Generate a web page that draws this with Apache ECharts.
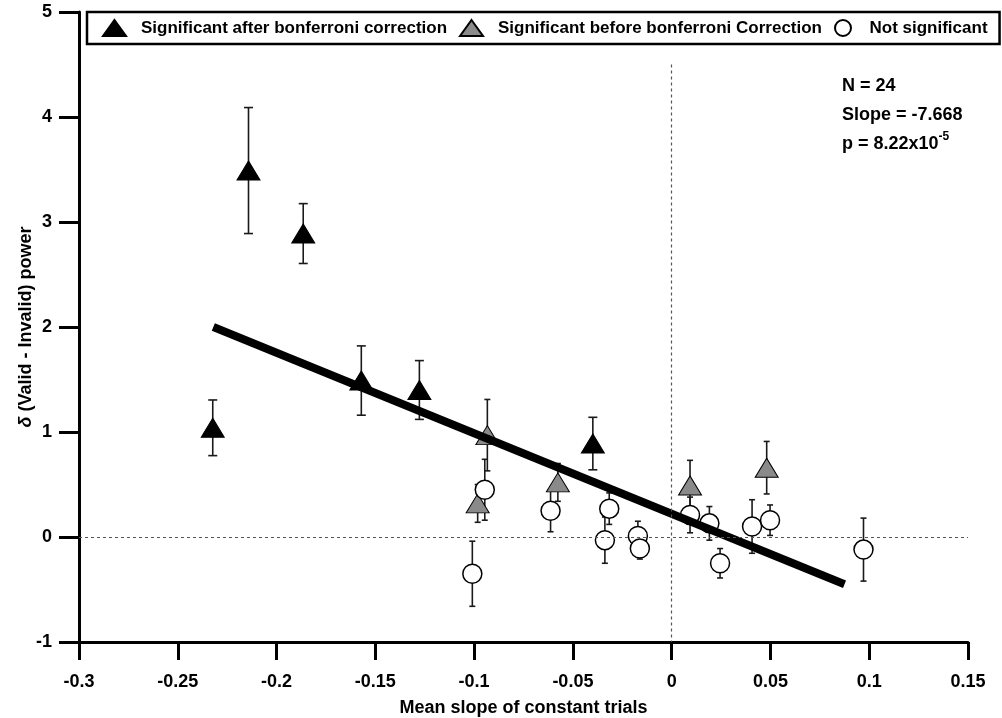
<!DOCTYPE html>
<html>
<head>
<meta charset="utf-8">
<script src="https://cdn.jsdelivr.net/npm/echarts@6/dist/echarts.min.js"></script>
<style>
  html, body { margin: 0; padding: 0; background: #fff; }
  #chart { width: 1002px; height: 718px; }
</style>
</head>
<body>
<div id="chart"></div>
<script>
// significant after bonferroni correction (black triangles)
const afterX = [-0.2323, -0.2142, -0.1865, -0.1571, -0.1277, -0.0399];
const afterY = [1.04, 3.49, 2.89, 1.49, 1.40, 0.89];
const afterErr = [0.265, 0.60, 0.285, 0.33, 0.28, 0.25];

// significant before bonferroni correction (grey triangles)
const beforeX = [-0.0933, -0.0982, -0.0576, 0.0093, 0.0481];
const beforeY = [0.97, 0.32, 0.52, 0.49, 0.66];
const beforeErr = [0.34, 0.18, 0.18, 0.24, 0.25];

// not significant (open circles)
const nsX = [-0.0946, -0.0613, -0.0316, -0.0338, -0.0171, -0.0161, -0.1009, 0.0093, 0.0191, 0.0245, 0.0407, 0.0498, 0.0971];
const nsY = [0.45, 0.25, 0.27, -0.03, 0.01, -0.11, -0.35, 0.21, 0.13, -0.25, 0.10, 0.16, -0.12];
const nsErr = [0.29, 0.20, 0.15, 0.22, 0.14, 0.10, 0.31, 0.17, 0.16, 0.14, 0.255, 0.145, 0.30];

// regression line ends
const fitX = [-0.232, 0.0875];
const fitY = [2.0, -0.45];

const statsLines = ['N = 24', 'Slope = -7.668'];

const legendNames = ['Significant after bonferroni correction', 'Significant before bonferroni Correction', 'Not significant'];

const FONT = '"Liberation Sans", Arial, sans-serif';

function pts(xs, ys) {
  return xs.map((x, i) => [x, ys[i]]);
}
function bars(xs, ys, es) {
  return xs.map((x, i) => [x, ys[i] - es[i], ys[i] + es[i]]);
}

// error bar drawing
function errorBar(cap) {
  return function (params, api) {
    const lo = api.coord([api.value(0), api.value(1)]);
    const hi = api.coord([api.value(0), api.value(2)]);
    const st = { stroke: '#1a1a1a', lineWidth: 1.6 };
    return {
      type: 'group',
      children: [
        { type: 'line', shape: { x1: lo[0], y1: lo[1], x2: hi[0], y2: hi[1] }, style: st },
        { type: 'line', shape: { x1: lo[0] - cap, y1: lo[1], x2: lo[0] + cap, y2: lo[1] }, style: st },
        { type: 'line', shape: { x1: hi[0] - cap, y1: hi[1], x2: hi[0] + cap, y2: hi[1] }, style: st }
      ]
    };
  };
}

const chart = echarts.init(document.getElementById('chart'));

const option = {
  animation: false,
  backgroundColor: '#fff',
  grid: { left: 79, right: 34, top: 12, bottom: 76, containLabel: false, outerBoundsMode: 'none' },
  legend: {
    data: legendNames,
    left: 87,
    top: 12,
    padding: [7, 12, 7, 15],
    itemGap: 12,
    itemWidth: 23,
    itemHeight: 16,
    borderColor: '#000',
    borderWidth: 2.5,
    backgroundColor: '#fff',
    selectedMode: false,
    textStyle: { fontFamily: FONT, fontSize: 17, fontWeight: 'bold', color: '#000', padding: [0, 0, 0, 10] }
  },
  xAxis: {
    type: 'value',
    min: -0.3,
    max: 0.15,
    interval: 0.05,
    splitLine: { show: false },
    axisLine: { show: true, onZero: false, lineStyle: { color: '#000', width: 3 } },
    axisTick: { show: true, length: 18, lineStyle: { color: '#000', width: 3 } },
    axisLabel: {
      margin: 31,
      fontFamily: FONT, fontSize: 18, fontWeight: 'bold', color: '#000',
      formatter: v => String(+v.toFixed(2))
    },
    name: 'Mean slope of constant trials',
    nameLocation: 'middle',
    nameGap: 57,
    nameMoveOverlap: false,
    nameTextStyle: { fontFamily: FONT, fontSize: 18, fontWeight: 'bold', color: '#000' }
  },
  yAxis: {
    type: 'value',
    min: -1,
    max: 5,
    interval: 1,
    splitLine: { show: false },
    axisLine: { show: true, onZero: false, lineStyle: { color: '#000', width: 3 } },
    axisTick: { show: true, length: 20, lineStyle: { color: '#000', width: 3 } },
    axisLabel: { margin: 27, fontFamily: FONT, fontSize: 18, fontWeight: 'bold', color: '#000' },
    name: '{i|δ} (Valid - Invalid) power',
    nameLocation: 'middle',
    nameGap: 44,
    nameMoveOverlap: false,
    nameTextStyle: {
      fontFamily: FONT, fontSize: 18, fontWeight: 'bold', color: '#000',
      rich: { i: { fontFamily: FONT, fontSize: 18, fontWeight: 'bold', fontStyle: 'italic', color: '#000' } }
    }
  },
  graphic: [
    {
      type: 'text', left: 842, top: 77, z: 10,
      style: { text: statsLines[0], font: 'bold 18px ' + FONT, fill: '#000' }
    },
    {
      type: 'text', left: 842, top: 106, z: 10,
      style: { text: statsLines[1], font: 'bold 18px ' + FONT, fill: '#000' }
    },
    {
      type: 'text', left: 842, top: 131, z: 10,
      style: {
        text: '{a|p = 8.22x10}{s|-5}',
        rich: {
          a: { fontFamily: FONT, fontSize: 18, fontWeight: 'bold', fill: '#000', lineHeight: 22, verticalAlign: 'bottom' },
          s: { fontFamily: FONT, fontSize: 12, fontWeight: 'bold', fill: '#000', lineHeight: 22, verticalAlign: 'top' }
        }
      }
    }
  ],
  series: [
    {
      // dashed reference lines
      type: 'line',
      data: [],
      z: 1,
      markLine: {
        silent: true,
        symbol: ['none', 'none'],
        label: { show: false },
        lineStyle: { color: '#555', width: 1.2, type: [3, 3] },
        data: [
          [{ coord: [-0.3, 0] }, { coord: [0.15, 0] }],
          [{ coord: [0, 4.5] }, { coord: [0, -1] }]
        ]
      }
    },
    {
      type: 'custom', z: 2, silent: true,
      renderItem: errorBar(4.5),
      data: bars(afterX, afterY, afterErr)
    },
    {
      type: 'custom', z: 2, silent: true,
      renderItem: errorBar(3),
      data: bars(beforeX, beforeY, beforeErr)
    },
    {
      type: 'custom', z: 2, silent: true,
      renderItem: errorBar(3),
      data: bars(nsX, nsY, nsErr)
    },
    {
      name: legendNames[0],
      type: 'scatter', z: 3,
      symbol: 'triangle',
      symbolSize: [23, 19],
      itemStyle: { color: '#000', borderColor: '#000', borderWidth: 1, opacity: 1 },
      data: pts(afterX, afterY)
    },
    {
      name: legendNames[1],
      type: 'scatter', z: 3,
      symbol: 'triangle',
      symbolSize: [23, 19],
      itemStyle: { color: '#8a8a8a', borderColor: '#000', borderWidth: 1, opacity: 1 },
      data: pts(beforeX, beforeY)
    },
    {
      name: legendNames[2],
      type: 'scatter', z: 3,
      symbol: 'circle',
      symbolSize: 19,
      itemStyle: { color: '#fff', borderColor: '#000', borderWidth: 1.5, opacity: 1 },
      data: pts(nsX, nsY)
    },
    {
      type: 'line', z: 4, silent: true,
      symbol: 'none',
      lineStyle: { color: '#000', width: 8, cap: 'butt' },
      data: pts(fitX, fitY)
    }
  ]
};

chart.setOption(option);
</script>
</body>
</html>
